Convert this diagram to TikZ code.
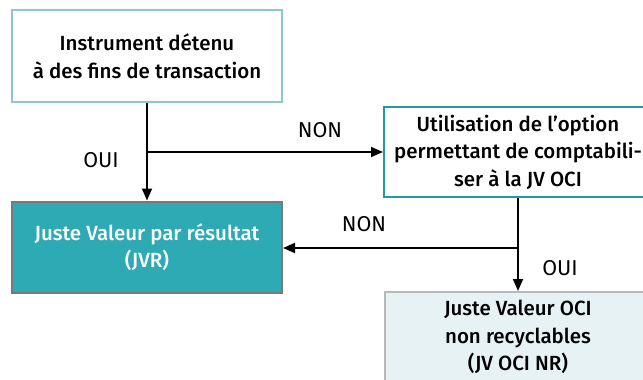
\documentclass[tikz,border=0pt]{standalone}
\usepackage{fontspec}
\setmainfont{Fira Sans}[BoldFont={Fira Sans Medium}]
\usetikzlibrary{arrows.meta}

\definecolor{tealline}{HTML}{8EC6CE}
\definecolor{tealdark}{HTML}{1F9AA1}
\definecolor{tealfill}{HTML}{2EAAB4}
\definecolor{palefill}{HTML}{E6F2F4}

\tikzset{
    box/.style={rectangle, draw, line width=2pt, align=center, font=\fontsize{20.5}{27.5}\selectfont\bfseries, inner sep=0pt},
    startbox/.style={box, draw=tealline, fill=white, minimum width=270pt, minimum height=92pt},
    optbox/.style={box, draw=tealdark, fill=white, minimum width=268pt, minimum height=90pt},
    jvrbox/.style={box, draw=gray!95!black, fill=tealfill, text=white, minimum width=270pt, minimum height=91pt},
    ocibox/.style={box, draw=gray!55, fill=palefill, minimum width=266pt, minimum height=90pt},
    lbl/.style={font=\fontsize{21.5}{24}\selectfont},
    flow/.style={line width=1.8pt, -{Triangle[width=10pt,length=12pt]}},
}

\begin{document}
\begin{tikzpicture}[x=1pt, y=-1pt]
    \useasboundingbox (0,0) rectangle (643,380);
    \clip (0,0) rectangle (643,380);

    % Draw nodes
    \node[startbox] (instr) at (147, 56) {Instrument détenu\\à des fins de transaction};
    \node[optbox] (option) at (518, 152) {Utilisation de l’option\\permettant de comptabili-\\ser à la JV OCI};
    \node[jvrbox] (jvr) at (147, 247) {Juste Valeur par résultat\\(JVR)};
    \node[ocibox] (jvoci) at (518, 337) {Juste Valeur OCI\\non recyclables\\(JV OCI NR)};

    % Branch points
    \coordinate (split1) at (147, 152);
    \coordinate (split2) at (518, 248);

    % Draw edges
    \draw[flow] (instr) -- (jvr); % OUI
    \draw[flow] (split1) -- (option); % NON
    \draw[flow] (option) -- (jvoci); % OUI
    \draw[flow] (split2) -- (jvr.east |- split2); % NON

    % Labels
    \node[lbl] (oui1) at (101, 160) {OUI};
    \node[lbl] (non1) at (320, 130) {NON};
    \node[lbl] (non2) at (364, 224) {NON};
    \node[lbl] (oui2) at (560, 268) {OUI};
\end{tikzpicture}
\end{document}
